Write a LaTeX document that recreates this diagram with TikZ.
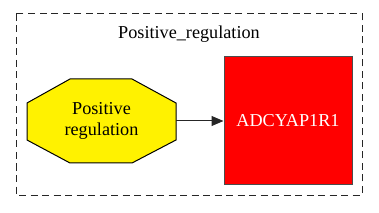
\documentclass[tikz,border=0pt]{standalone}
\usepackage{fontspec}
\setmainfont{Liberation Serif}
\usetikzlibrary{arrows.meta}
\begin{document}
\begin{tikzpicture}[x=1pt,y=-1pt,
  lbl/.style={font=\fontsize{18.2}{21}\selectfont, inner sep=0pt},
  cluster/.style={draw=black!85, line width=1pt, dash pattern=on 7pt off 4.5pt},
  edge/.style={draw=black!85, line width=1pt, -{Triangle[length=12pt,width=10pt]}},
  boxnode/.style={draw=black!70, line width=1pt, fill=red, minimum width=128pt, minimum height=127pt, inner sep=0pt, text=white, font=\fontsize{18.2}{21}\selectfont}]
\useasboundingbox (0,0) rectangle (379,213);
\draw[cluster] (16,14) rectangle (362,195);
\node[lbl] (title) at (189,34) {Positive\_regulation};
\draw[line width=1pt, fill=yellow] (27,103) -- (70,79) -- (132,79) -- (176,103) -- (176,140) -- (132,163) -- (70,163) -- (27,140) -- cycle;
\coordinate (oct) at (101.5,121);
\coordinate (octE) at (176,121);
\node[lbl, align=center, font=\fontsize{18.2}{21.5}\selectfont] (pr) at (101.5,121) {Positive\\regulation};
\node[boxnode] (adc) at (288,120.5) {ADCYAP1R1};
\draw[edge] (octE) -- (adc.west |- octE);
\end{tikzpicture}
\end{document}
